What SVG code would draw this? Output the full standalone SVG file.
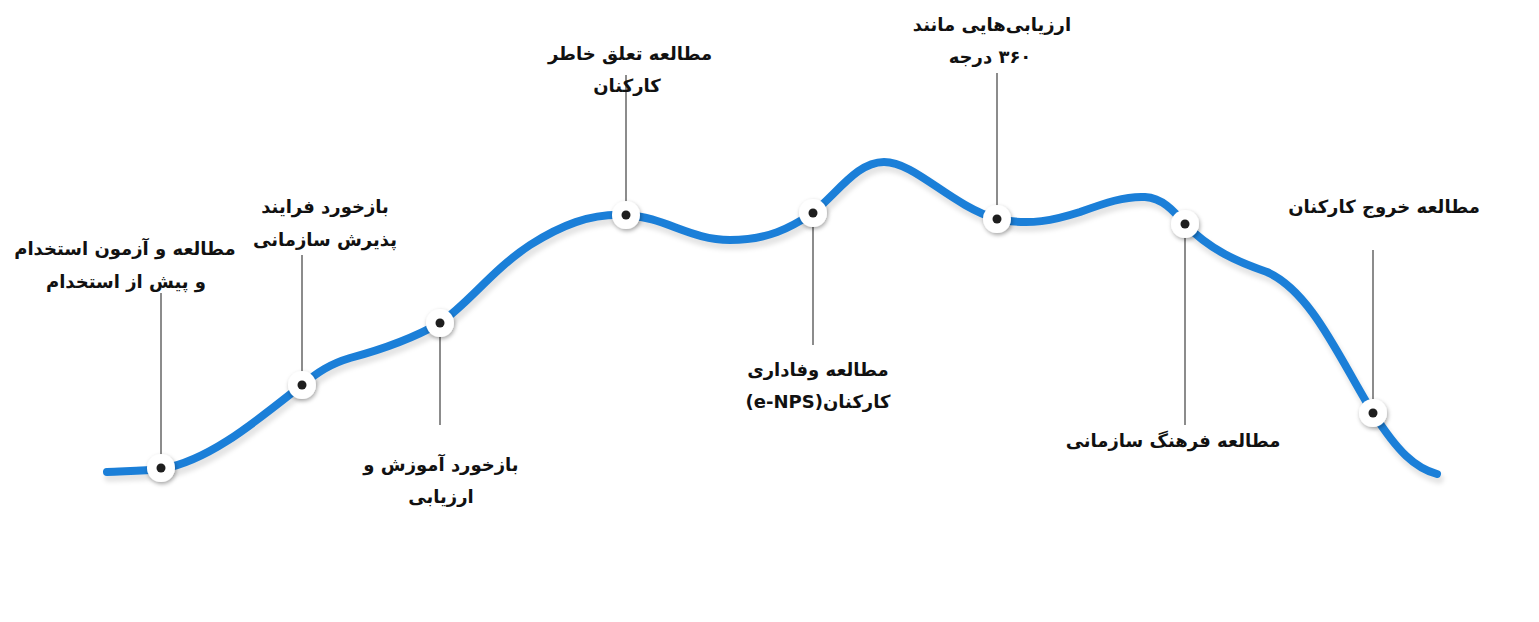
<svg xmlns="http://www.w3.org/2000/svg" width="1539" height="622" viewBox="0 0 1539 622">
<style>
.lbl{font-family:"DejaVu Sans","Noto Sans",sans-serif;font-weight:bold;font-size:18px;fill:#111;text-anchor:middle;direction:rtl}
.lead{stroke:#8c8c8c;stroke-width:2;fill:none}
.curve{fill:none;stroke:#1b7fd8;stroke-width:8;stroke-linecap:round;stroke-linejoin:round}
.curveShadow{fill:none;stroke:#000;stroke-opacity:0.10;stroke-width:10;stroke-linecap:round}
.ring{fill:#fff;filter:url(#sh)}
.dot{fill:#1e1e1e}
</style>
<defs>
<filter id="sh" x="-50%" y="-50%" width="200%" height="200%">
<feDropShadow dx="1" dy="2" stdDeviation="2" flood-color="#000" flood-opacity="0.35"/>
</filter>
<filter id="blur"><feGaussianBlur stdDeviation="2"/></filter>
</defs>
<rect width="1539" height="622" fill="#fff"/>
<g id="connectors">
<line class="lead" x1="161" y1="293" x2="161" y2="468"/>
<line class="lead" x1="302" y1="255" x2="302" y2="385"/>
<line class="lead" x1="440" y1="323" x2="440" y2="425"/>
<line class="lead" x1="626" y1="75" x2="626" y2="215"/>
<line class="lead" x1="813" y1="213" x2="813" y2="345"/>
<line class="lead" x1="997" y1="73" x2="997" y2="219"/>
<line class="lead" x1="1185" y1="224" x2="1185" y2="425"/>
<line class="lead" x1="1373" y1="250" x2="1373" y2="413"/>
</g>
<g id="curve">
<path class="curveShadow" filter="url(#blur)" transform="translate(2,5)" d="M107,472 C125,471 142,471 162,469 C210,460 255,422 302,385 C318,372 330,364 350,358 C380,350 410,340 440,323 C470,302 492,270 530,245 C560,226 590,213 626,215 C665,217 690,240 730,240 C768,240 790,228 813,213 C840,190 858,162 884,162 C915,162 950,205 997,219 C1030,226 1055,220 1080,212 C1105,203 1125,196 1145,197 C1162,198 1173,210 1185,224 C1210,250 1238,262 1267,272 C1312,292 1340,360 1373,413 C1398,452 1415,468 1437,474"/>
<path class="curve" d="M107,472 C125,471 142,471 162,469 C210,460 255,422 302,385 C318,372 330,364 350,358 C380,350 410,340 440,323 C470,302 492,270 530,245 C560,226 590,213 626,215 C665,217 690,240 730,240 C768,240 790,228 813,213 C840,190 858,162 884,162 C915,162 950,205 997,219 C1030,226 1055,220 1080,212 C1105,203 1125,196 1145,197 C1162,198 1173,210 1185,224 C1210,250 1238,262 1267,272 C1312,292 1340,360 1373,413 C1398,452 1415,468 1437,474"/>
</g>
<g id="n1"><circle class="ring" cx="161" cy="468" r="14"/><circle class="dot" cx="161" cy="468" r="4.5"/>
<text class="lbl" x="125" y="255">مطالعه و آزمون استخدام</text><text class="lbl" x="126" y="288">و پیش از استخدام</text></g>
<g id="n2"><circle class="ring" cx="302" cy="385" r="14"/><circle class="dot" cx="302" cy="385" r="4.5"/>
<text class="lbl" x="325" y="213">بازخورد فرایند</text><text class="lbl" x="325" y="246">پذیرش سازمانی</text></g>
<g id="n3"><circle class="ring" cx="440" cy="323" r="14"/><circle class="dot" cx="440" cy="323" r="4.5"/>
<text class="lbl" x="441" y="471">بازخورد آموزش و</text><text class="lbl" x="441" y="503">ارزیابی</text></g>
<g id="n4"><circle class="ring" cx="626" cy="215" r="14"/><circle class="dot" cx="626" cy="215" r="4.5"/>
<text class="lbl" x="630" y="60">مطالعه تعلق خاطر</text><text class="lbl" x="627" y="92">کارکنان</text></g>
<g id="n5"><circle class="ring" cx="813" cy="213" r="14"/><circle class="dot" cx="813" cy="213" r="4.5"/>
<text class="lbl" x="818" y="376">مطالعه وفاداری</text><text class="lbl" x="818" y="408">کارکنان(e-NPS)</text></g>
<g id="n6"><circle class="ring" cx="997" cy="219" r="14"/><circle class="dot" cx="997" cy="219" r="4.5"/>
<text class="lbl" x="992" y="31">ارزیابی‌هایی مانند</text><text class="lbl" x="990" y="63">۳۶۰ درجه</text></g>
<g id="n7"><circle class="ring" cx="1185" cy="224" r="14"/><circle class="dot" cx="1185" cy="224" r="4.5"/>
<text class="lbl" x="1173" y="447">مطالعه فرهنگ سازمانی</text></g>
<g id="n8"><circle class="ring" cx="1373" cy="413" r="14"/><circle class="dot" cx="1373" cy="413" r="4.5"/>
<text class="lbl" x="1384" y="213">مطالعه خروج کارکنان</text></g>
</svg>
